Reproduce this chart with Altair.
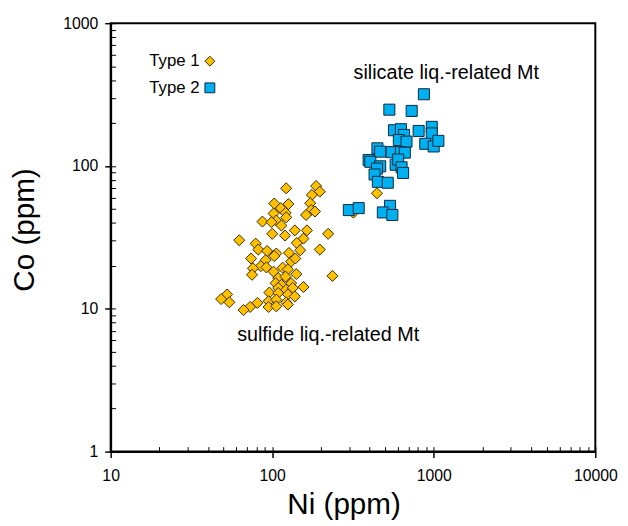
import altair as alt
import pandas as pd

# ---- data ----
t1_ni = [122, 187, 197, 176, 103, 126, 172, 113, 174, 184, 102, 121, 162, 87, 106, 99, 122, 114,
         100, 120, 138, 164, 222, 62.5, 156, 79, 142, 82, 93, 106, 127, 149, 197, 74, 91, 103,
         131, 139, 85, 76, 92, 116, 125, 102, 75, 141, 236, 109, 121, 105, 114, 131, 156, 109,
         122, 134, 96, 109, 52.6, 125, 138, 48.3, 54.3, 81, 95, 106, 122, 73, 66.5, 95, 106, 125,
         445, 318]
t1_co = [69.8, 72.4, 66.1, 62.7, 54.6, 54.1, 54.9, 50.7, 49.1, 48.0, 46.5, 47.0, 45.4, 40.8, 41.5,
         40.4, 43.7, 38.3, 33.5, 32.6, 35.4, 35.4, 33.5, 30.2, 31.0, 28.6, 28.9, 26.0, 25.4, 24.4,
         24.6, 25.7, 26.0, 22.5, 21.9, 23.4, 21.4, 22.5, 19.9, 19.2, 19.5, 19.4, 18.9, 18.2, 17.3,
         17.5, 17.0, 16.4, 16.8, 15.1, 14.7, 15.1, 14.2, 14.0, 13.6, 14.0, 13.0, 12.9, 12.6, 12.6,
         12.2, 11.7, 11.1, 11.0, 11.3, 11.6, 11.1, 10.3, 9.8, 10.3, 10.4, 10.7, 64.4, 47.1]
t2_ni = [869, 531, 730, 567, 626, 655, 806, 972, 972, 608, 678, 886, 999, 1068, 448, 466, 549, 626,
         662, 395, 405, 466, 445, 581, 602, 632, 646, 430, 451, 519, 298, 343, 536, 484, 554]
t2_co = [318, 248, 243, 178, 181, 165, 176, 188, 169, 152, 148, 143, 137, 150, 133, 126, 125, 125,
         124, 110, 107, 99.5, 95.9, 102, 111, 97.9, 89.4, 87.2, 77.5, 76.3, 49.1, 50.7, 52.6, 47.3,
         45.4]
labels = ["Type 1", "Type 2"]
note_text = ["silicate liq.-related Mt", "sulfide liq.-related Mt"]
note_ni = [1195, 222]
note_co = [405, 5.95]
x_major = [10, 100, 1000, 10000]
y_major = [1, 10, 100, 1000]
x_minor = [m * 10 ** k for k in (1, 2, 3) for m in range(1, 10)] + [10000]
y_minor = [m * 10 ** k for k in (0, 1, 2) for m in range(1, 10)] + [1000]

df = pd.DataFrame({
    "Ni": t1_ni + t2_ni,
    "Co": t1_co + t2_co,
    "type": [labels[0]] * len(t1_ni) + [labels[1]] * len(t2_ni),
})
notes = pd.DataFrame({"Ni": note_ni, "Co": note_co, "text": note_text})

FONT = "Liberation Sans"
PAD = "\u00a0" * 4 + "\u200b"   # trailing gap between label and its symbol (kept from trimming)
xs = alt.Scale(type="log", domain=[10, 10000], nice=False)
ys = alt.Scale(type="log", domain=[1, 1000], nice=False)

leg = alt.Legend(orient="none", legendX=92, legendY=30, labelAlign="right", labelOffset=0,
                 labelExpr="datum.label + '" + PAD + "'",
                 labelFontSize=17, labelFont=FONT, labelColor="black",
                 symbolSize=100, symbolStrokeWidth=1, rowPadding=9, title=None)

main_x = alt.Axis(values=x_major, format="d", title="Ni (ppm)", orient="bottom", tickSize=6,
                  labelPadding=10, labelFlush=False, grid=False, domainColor="black",
                  domainWidth=2, tickColor="black", tickWidth=1.5,
                  titleX=236, titleY=63, titleBaseline="alphabetic")
main_y = alt.Axis(values=y_major, format="d", title="Co (ppm)", orient="left", tickSize=6,
                  labelPadding=7, labelFlush=False, grid=False, domainColor="black",
                  domainWidth=2, tickColor="black", tickWidth=1.5,
                  titleX=-78, titleY=209, titleBaseline="alphabetic", titleAngle=270)
minor_x = alt.Axis(values=x_minor, labels=False, title=None, orient="bottom", tickSize=5, offset=-5,
                   domain=False, grid=False, tickColor="black", tickWidth=1)
minor_y = alt.Axis(values=y_minor, labels=False, title=None, orient="left", tickSize=5, offset=-5,
                   domain=False, grid=False, tickColor="black", tickWidth=1)

minor = alt.Chart(df).mark_point(opacity=0).encode(
    x=alt.X("Ni:Q", scale=xs, axis=minor_x),
    y=alt.Y("Co:Q", scale=ys, axis=minor_y),
)

points = alt.Chart(df).mark_point(filled=True, size=125, opacity=1, strokeWidth=1).encode(
    x=alt.X("Ni:Q", scale=xs, axis=main_x),
    y=alt.Y("Co:Q", scale=ys, axis=main_y),
    fill=alt.Fill("type:N", scale=alt.Scale(domain=labels, range=["#FFC000", "#00B0F0"]), legend=leg),
    shape=alt.Shape("type:N", scale=alt.Scale(domain=labels, range=["diamond", "square"]), legend=leg),
    stroke=alt.Stroke("type:N", scale=alt.Scale(domain=labels, range=["#3a2c00", "#0b2a40"]), legend=leg),
)

text = alt.Chart(notes).mark_text(font=FONT, fontSize=20, color="black", baseline="alphabetic").encode(
    x=alt.X("Ni:Q", scale=xs, axis=None),
    y=alt.Y("Co:Q", scale=ys, axis=None),
    text="text:N",
)

chart = alt.layer(minor, points, text).resolve_axis(
    x="independent", y="independent"
).properties(
    width=491, height=434,
    padding={"left": 104, "top": 12, "right": 25, "bottom": 72},
    autosize=alt.AutoSizeParams(type="none"),
).configure_view(
    stroke="black", strokeWidth=2
).configure_axis(
    labelFont=FONT, titleFont=FONT, labelFontSize=16, titleFontSize=30,
    titleFontWeight="normal", labelColor="black", titleColor="black",
)

chart.save("out.html", embed_options={"renderer": "svg", "actions": False})
